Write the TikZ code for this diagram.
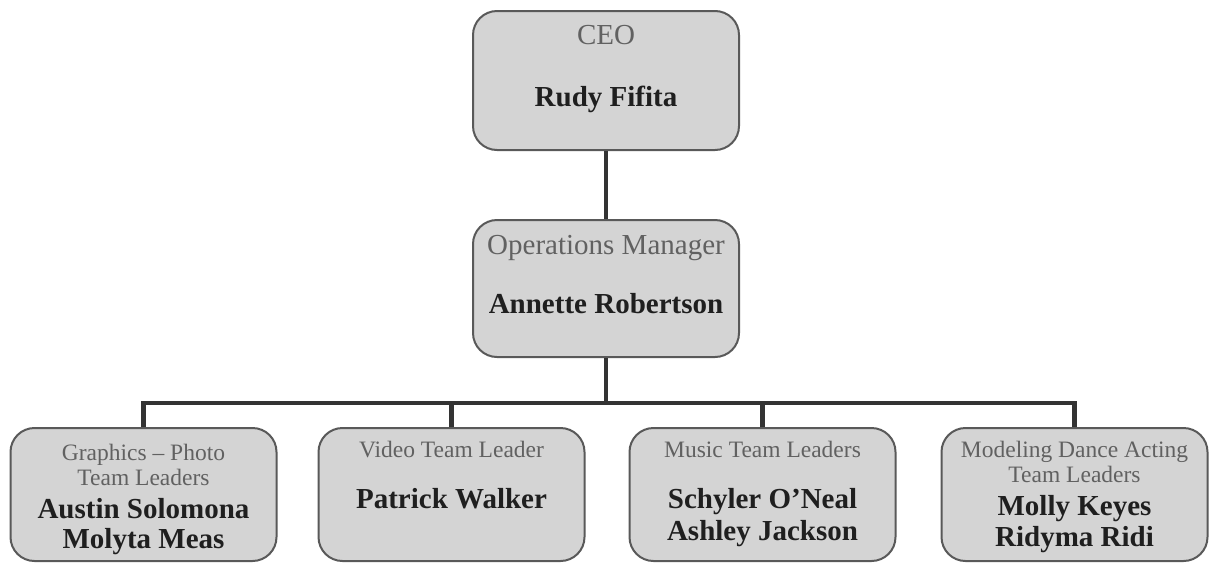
\documentclass[tikz,border=0pt]{standalone}
\usepackage{fontspec}
\setmainfont{Liberation Serif}
\begin{document}
\begin{tikzpicture}[x=1pt,y=-1pt,
  box/.style={draw=black!65, line width=2pt, fill=black!17, rounded corners=24pt,
    minimum width=266pt, inner sep=0pt},
  role/.style={text=black!62, font=\fontsize{29}{34}\selectfont, anchor=base, inner sep=0pt},
  subrole/.style={text=black!62, font=\fontsize{23.5}{28}\selectfont, anchor=base, inner sep=0pt},
  person/.style={text=black!88, font=\fontsize{29}{34}\selectfont\bfseries, anchor=base, inner sep=0pt},
  link/.style={draw=black!80, line width=4.5pt}]
\useasboundingbox (0,0) rectangle (1209,563);
% boxes
\node[box, minimum height=139pt] (ceo) at (606,80.5) {};
\node[box, minimum height=137pt] (ops) at (606,288.5) {};
\node[box, minimum height=133pt] (b1) at (143.5,494.5) {};
\node[box, minimum height=133pt] (b2) at (451.5,494.5) {};
\node[box, minimum height=133pt] (b3) at (762.5,494.5) {};
\node[box, minimum height=133pt] (b4) at (1074.5,494.5) {};
% texts
\node[role] (t1) at (606,44.5) {CEO};
\node[person] (t2) at (606,106.5) {Rudy Fifita};
\node[role] (t3) at (606,254.5) {Operations Manager};
\node[person] (t4) at (606,313.5) {Annette Robertson};
\node[subrole] (t5) at (143.5,460.8) {Graphics – Photo};
\node[subrole] (t6) at (143.5,485.3) {Team Leaders};
\node[person] (t7) at (143.5,518.5) {Austin Solomona};
\node[person] (t8) at (143.5,548.5) {Molyta Meas};
\node[subrole] (t9) at (451.5,457.8) {Video Team Leader};
\node[person] (t10) at (451.5,508.5) {Patrick Walker};
\node[subrole] (t11) at (762.5,457.8) {Music Team Leaders};
\node[person] (t12) at (762.5,508.5) {Schyler O’Neal};
\node[person] (t13) at (762.5,540.5) {Ashley Jackson};
\node[subrole] (t14) at (1074.5,457.8) {Modeling Dance Acting};
\node[subrole] (t15) at (1074.5,482.8) {Team Leaders};
\node[person] (t16) at (1074.5,515.5) {Molly Keyes};
\node[person] (t17) at (1074.5,546.5) {Ridyma Ridi};
% connectors
\coordinate (bus) at (606,403);
\draw[link] (ceo.south) -- (ops.north);
\draw[link] (ops.south) -- (bus);
\draw[link] (b1.north) |- (bus) -| (b4.north);
\draw[link] (b2.north) -- (b2.north |- bus);
\draw[link] (b3.north) -- (b3.north |- bus);
\end{tikzpicture}
\end{document}
